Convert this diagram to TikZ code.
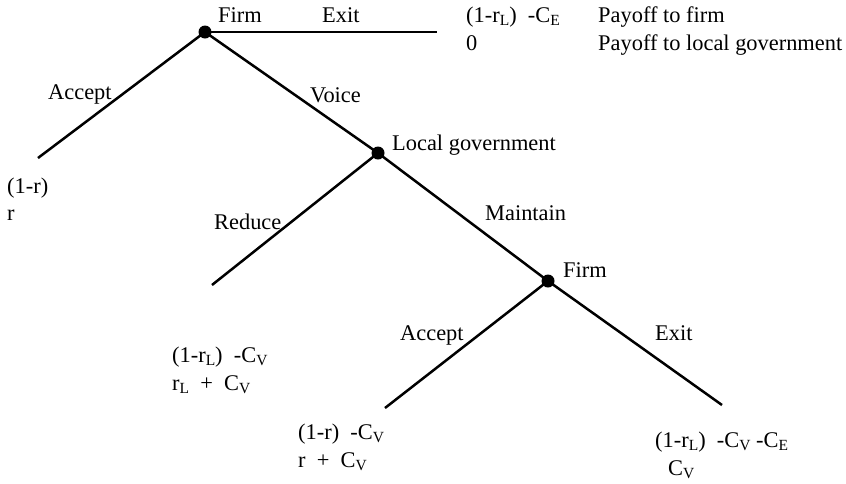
\documentclass[tikz,border=0pt]{standalone}
\usepackage{fontspec}
\setmainfont{Liberation Serif}
\newcommand\lsub[1]{\raisebox{-0.3ex}{\fontsize{15.5}{15.5}\selectfont #1}}
\begin{document}
\begin{tikzpicture}[x=1pt,y=-1pt,
  edge/.style={line width=2.5pt},
  dec/.style={circle,fill=black,inner sep=0pt,minimum size=13pt},
  lbl/.style={anchor=base west,inner sep=0pt,font=\fontsize{22.4}{27}\selectfont}]
\useasboundingbox (0,0) rectangle (846,483);
% decision nodes
\node[dec] (f1) at (205,32) {};
\node[dec] (lg) at (378,153) {};
\node[dec] (f2) at (548,281) {};
% terminal ends
\coordinate (t1) at (437,32);
\coordinate (t2) at (38,158);
\coordinate (t3) at (212,285);
\coordinate (t4) at (385,408);
\coordinate (t5) at (722,405);
% branches
\draw[edge] (f1.center) -- (t1);
\draw[edge] (f1.center) -- (t2);
\draw[edge] (f1.center) -- (lg.center);
\draw[edge] (lg.center) -- (t3);
\draw[edge] (lg.center) -- (f2.center);
\draw[edge] (f2.center) -- (t4);
\draw[edge] (f2.center) -- (t5);
% player labels
\node[lbl] (nf1) at (218,22) {Firm};
\node[lbl] (nlg) at (392,150) {Local government};
\node[lbl] (nf2) at (563,277) {Firm};
% action labels
\node[lbl] (aexit1) at (322,22) {Exit};
\node[lbl] (aacc1) at (48,99) {Accept};
\node[lbl] (avoice) at (310,102) {Voice};
\node[lbl] (ared) at (214,229) {Reduce};
\node[lbl] (amain) at (485,220) {Maintain};
\node[lbl] (aacc2) at (400,340) {Accept};
\node[lbl] (aexit2) at (655,340) {Exit};
% payoffs
\node[lbl] (p1a) at (466,22) {(1-r\lsub{L})~~-C\lsub{E}};
\node[lbl] (p1b) at (466,50) {0};
\node[lbl] (k1) at (598,22) {Payoff to firm};
\node[lbl] (k2) at (598,50) {Payoff to local government};
\node[lbl] (p2a) at (7,193) {(1-r)};
\node[lbl] (p2b) at (7,220) {r};
\node[lbl] (p3a) at (172,362) {(1-r\lsub{L})~~-C\lsub{V}};
\node[lbl] (p3b) at (172,390) {r\lsub{L}~~+~~C\lsub{V}};
\node[lbl] (p4a) at (298,439) {(1-r)~~-C\lsub{V}};
\node[lbl] (p4b) at (298,467) {r~~+~~C\lsub{V}};
\node[lbl] (p5a) at (655,447) {(1-r\lsub{L})~~-C\lsub{V}~-C\lsub{E}};
\node[lbl] (p5b) at (668,475) {C\lsub{V}};
\end{tikzpicture}
\end{document}
